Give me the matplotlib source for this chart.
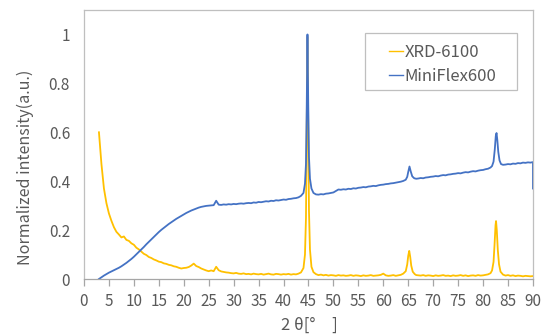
import numpy as np
import matplotlib
matplotlib.use("Agg")
import matplotlib.pyplot as plt
from matplotlib.patches import Rectangle

plt.rcParams['font.family'] = ['Noto Sans CJK JP', 'DejaVu Sans']

# ---- XRD-6100 (yellow) ----
xrd_a = [0.600, 0.470, 0.370, 0.310, 0.268, 0.238, 0.212, 0.193, 0.182, 0.170,
         0.174, 0.160, 0.156, 0.146, 0.140, 0.128, 0.121, 0.112, 0.103, 0.098,
         0.090, 0.086, 0.080, 0.076, 0.071, 0.069, 0.064, 0.062, 0.058, 0.056,
         0.052, 0.050, 0.046, 0.043, 0.045, 0.046, 0.049, 0.055, 0.063, 0.053,
         0.049, 0.043, 0.039, 0.035, 0.032, 0.035, 0.032, 0.050, 0.036, 0.031,
         0.029, 0.027, 0.026, 0.024, 0.023, 0.025, 0.022, 0.021, 0.023, 0.020,
         0.021, 0.019, 0.022, 0.020, 0.019, 0.021, 0.018, 0.020, 0.022, 0.019,
         0.018, 0.021, 0.020, 0.018, 0.020, 0.019, 0.021, 0.018, 0.020, 0.019,
         0.022, 0.027]
xrd_p1_x = [44.0, 44.3, 44.5, 44.65, 44.8, 44.95, 45.1, 45.3, 45.6, 46.0, 46.5]
xrd_p1_y = [0.045, 0.10, 0.25, 0.60, 0.99, 0.62, 0.28, 0.12, 0.05, 0.028, 0.020]
xrd_b = [0.016, 0.018, 0.015, 0.017, 0.014, 0.016, 0.015, 0.013, 0.016, 0.014,
         0.015, 0.013, 0.014, 0.016, 0.013, 0.015, 0.014, 0.012, 0.015, 0.013,
         0.014, 0.016, 0.013, 0.014, 0.015, 0.017, 0.022, 0.015, 0.013, 0.014,
         0.016, 0.013, 0.015, 0.017, 0.022]
xrd_p2_x = [64.5, 64.8, 65.0, 65.2, 65.4, 65.6, 65.9, 66.3, 66.6]
xrd_p2_y = [0.032, 0.060, 0.095, 0.115, 0.090, 0.055, 0.030, 0.020, 0.016]
xrd_c = [0.015, 0.014, 0.016, 0.013, 0.015, 0.014, 0.012, 0.015, 0.013, 0.014,
         0.016, 0.013, 0.014, 0.012, 0.015, 0.013, 0.014, 0.016, 0.013, 0.015,
         0.012, 0.014, 0.015, 0.013, 0.016, 0.014, 0.015, 0.017, 0.019, 0.024]
xrd_p3_x = [81.8, 82.1, 82.3, 82.5, 82.6, 82.75, 82.95, 83.2, 83.5, 84.0]
xrd_p3_y = [0.035, 0.070, 0.140, 0.220, 0.237, 0.200, 0.120, 0.060, 0.030, 0.018]
xrd_d = [0.014, 0.016, 0.013, 0.015, 0.012, 0.014, 0.013, 0.011, 0.013, 0.012,
         0.011, 0.012]

# ---- MiniFlex600 (blue) ----
mf_a = [0.000, 0.007, 0.014, 0.020, 0.026, 0.031, 0.036, 0.041, 0.046, 0.052,
        0.059, 0.066, 0.074, 0.082, 0.091, 0.101, 0.111, 0.121, 0.131, 0.142,
        0.152, 0.162, 0.172, 0.182, 0.192, 0.201, 0.209, 0.217, 0.225, 0.232,
        0.239, 0.246, 0.252, 0.258, 0.264, 0.270, 0.275, 0.280, 0.284, 0.288,
        0.292, 0.295, 0.297, 0.299, 0.300, 0.301, 0.302, 0.320, 0.304, 0.303,
        0.305, 0.304, 0.306, 0.305, 0.307, 0.306, 0.308, 0.309, 0.308, 0.310,
        0.311, 0.310, 0.313, 0.312, 0.315, 0.314, 0.316, 0.318, 0.317, 0.320,
        0.319, 0.322, 0.321, 0.323, 0.325, 0.324, 0.327, 0.328, 0.330, 0.331,
        0.334, 0.340]
mf_p1_x = [44.0, 44.3, 44.5, 44.65, 44.8, 44.95, 45.1, 45.3, 45.6, 46.0, 46.5]
mf_p1_y = [0.352, 0.390, 0.470, 0.700, 1.000, 0.720, 0.500, 0.410, 0.370, 0.352, 0.346]
mf_b = [0.345, 0.347, 0.346, 0.349, 0.350, 0.352, 0.354, 0.360, 0.366, 0.365,
        0.367, 0.366, 0.369, 0.368, 0.371, 0.370, 0.373, 0.374, 0.376, 0.375,
        0.378, 0.379, 0.381, 0.380, 0.383, 0.385, 0.386, 0.388, 0.389, 0.391,
        0.392, 0.394, 0.396, 0.398, 0.401]
mf_p2_x = [64.5, 64.8, 65.0, 65.25, 65.5, 65.8, 66.2, 66.6]
mf_p2_y = [0.406, 0.418, 0.438, 0.460, 0.440, 0.420, 0.412, 0.410]
mf_c = [0.411, 0.413, 0.412, 0.415, 0.416, 0.418, 0.419, 0.421, 0.420, 0.423,
        0.425, 0.424, 0.427, 0.428, 0.430, 0.431, 0.433, 0.432, 0.435, 0.437,
        0.436, 0.439, 0.441, 0.440, 0.443, 0.445, 0.446, 0.449, 0.451, 0.456]
mf_p3_x = [81.8, 82.1, 82.35, 82.55, 82.7, 82.85, 83.05, 83.3, 83.6, 84.0]
mf_p3_y = [0.462, 0.480, 0.530, 0.585, 0.597, 0.570, 0.520, 0.485, 0.470, 0.467]
mf_d = [0.468, 0.470, 0.469, 0.472, 0.471, 0.474, 0.473, 0.476, 0.475, 0.477,
        0.476, 0.478]
mf_end_x = [90.0]
mf_end_y = [0.370]

# scan steps of the flat stretches
step_a = np.arange(3.0, 43.51, 0.5)
step_b = np.arange(47.0, 64.01, 0.5)
step_c = np.arange(67.0, 81.51, 0.5)
step_d = np.arange(84.5, 90.01, 0.5)

xrd_x = np.concatenate([step_a, xrd_p1_x, step_b, xrd_p2_x, step_c, xrd_p3_x, step_d])
xrd_y = np.concatenate([xrd_a, xrd_p1_y, xrd_b, xrd_p2_y, xrd_c, xrd_p3_y, xrd_d])
mf_x = np.concatenate([step_a, mf_p1_x, step_b, mf_p2_x, step_c, mf_p3_x, step_d, mf_end_x])
mf_y = np.concatenate([mf_a, mf_p1_y, mf_b, mf_p2_y, mf_c, mf_p3_y, mf_d, mf_end_y])

grey = "#595959"
frame = "#BFBFBF"

fig = plt.figure(figsize=(5.54, 3.36), dpi=100)
ax = fig.add_axes([0.1516, 0.1696, 0.8104, 0.8006])

ax.plot(xrd_x, xrd_y, color="#FFC000", lw=1.3, label="XRD-6100")
ax.plot(mf_x, mf_y, color="#4472C4", lw=1.3, label="MiniFlex600")

ax.set_xlim(0, 90)
ax.set_ylim(0, 1.1)
ax.set_xticks(np.arange(0, 91, 5))
ax.set_yticks([0, 0.2, 0.4, 0.6, 0.8, 1.0])
ax.set_yticklabels(["0", "0.2", "0.4", "0.6", "0.8", "1"])

for s in ax.spines.values():
    s.set_color(frame)
    s.set_linewidth(0.9)
ax.spines['bottom'].set_color("#A6A6A6")

ax.tick_params(axis='x', direction='out', length=5, width=0.9, color="#A6A6A6",
               labelsize=11, labelcolor=grey, pad=5)
ax.tick_params(axis='y', length=0, labelsize=11, labelcolor=grey, pad=10)

ax.set_ylabel("Normalized intensity(a.u.)", color=grey, fontsize=11.6, va='center')
ax.yaxis.set_label_coords(-0.131, 0.416)
ax.set_xlabel("2 θ[°　]", color=grey, fontsize=12, va='center')
ax.xaxis.set_label_coords(0.503, -0.171)

# legend box like the Excel one
ax.add_patch(Rectangle((0.626, 0.703), 0.338, 0.211, transform=ax.transAxes,
                       fill=True, facecolor="white", edgecolor=frame, lw=0.9, zorder=4))
leg = ax.legend(loc="center left", bbox_to_anchor=(0.679, 0.797), fontsize=12,
                frameon=False, handlelength=0.84, handletextpad=0.1,
                borderpad=0, borderaxespad=0, labelspacing=0.42)
leg.set_zorder(5)
for t in leg.get_texts():
    t.set_color(grey)
for h in leg.get_lines():
    h.set_linewidth(1.0)

fig.savefig("out.png", dpi=100)
